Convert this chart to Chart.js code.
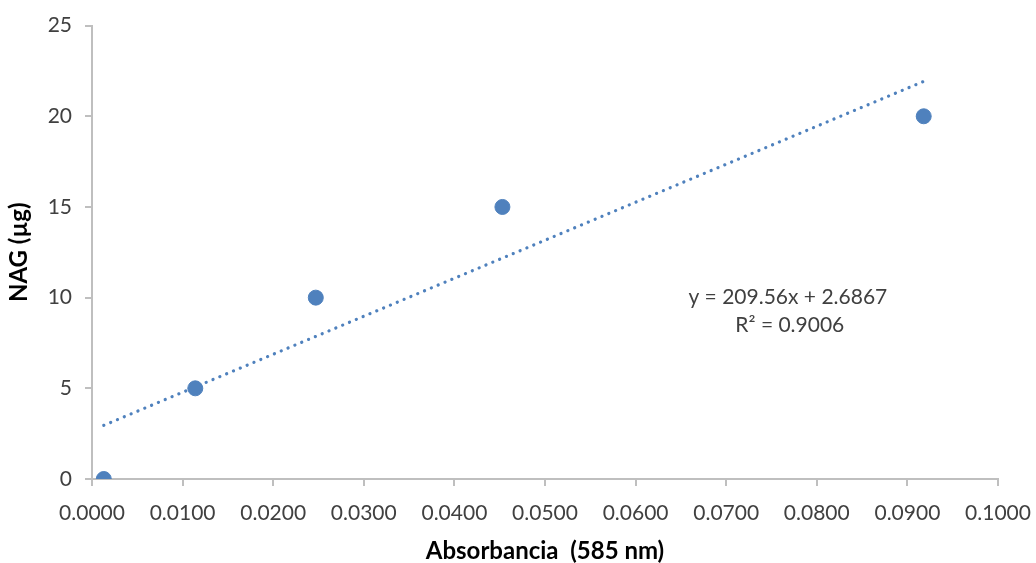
<!DOCTYPE html>
<html>
<head>
<meta charset="utf-8">
<script src="https://cdn.jsdelivr.net/npm/chart.js@4"></script>
<style>
  html, body { margin: 0; padding: 0; background: #fff; }
  #wrap { width: 1036px; height: 563px; }
</style>
</head>
<body>
<div id="wrap"><canvas id="chart" width="1036" height="563"></canvas></div>
<script>
// data
const absorbance = [0.0013, 0.0114, 0.0247, 0.0453, 0.0918];
const nagUg = [0, 5, 10, 15, 20];
const xTicks = [0, 0.01, 0.02, 0.03, 0.04, 0.05, 0.06, 0.07, 0.08, 0.09, 0.1];
const yTicks = [0, 5, 10, 15, 20, 25];
const slope = 209.56;
const intercept = 2.6867;
const equationLines = ['y = 209.56x + 2.6867', 'R² = 0.9006'];

const blue = '#4f81bd';
const axisGrey = '#bfbfbf';
const textCol = '#404040';
const fontFam = 'Lato, "Open Sans", sans-serif';

const points = absorbance.map((x, i) => ({ x: x, y: nagUg[i] }));
const xFirst = absorbance[0];
const xLast = absorbance[absorbance.length - 1];
const trend = [
  { x: xFirst, y: slope * xFirst + intercept },
  { x: xLast, y: slope * xLast + intercept }
];

// equation label, placed in data coordinates
const equationLabel = {
  id: 'equationLabel',
  afterDatasetsDraw(chart) {
    const { ctx, scales } = chart;
    const cx = scales.x.getPixelForValue(0.0768);
    const cy = scales.y.getPixelForValue(10);
    ctx.save();
    ctx.fillStyle = textCol;
    ctx.font = '21px ' + fontFam;
    ctx.textAlign = 'center';
    ctx.textBaseline = 'middle';
    ctx.fillText(equationLines[0], cx, cy);
    ctx.fillText(equationLines[1], cx + 2, cy + 28);
    ctx.restore();
  }
};

new Chart(document.getElementById('chart').getContext('2d'), {
  type: 'scatter',
  data: {
    datasets: [{
      label: 'NAG',
      data: points,
      backgroundColor: blue,
      borderColor: blue,
      pointRadius: 7.5,
      pointHoverRadius: 7.5
    }, {
      label: 'Trend',
      data: trend,
      showLine: true,
      pointRadius: 0,
      borderColor: blue,
      borderWidth: 3.2,
      borderDash: [0.1, 7.3],
      borderCapStyle: 'round'
    }]
  },
  options: {
    responsive: false,
    animation: false,
    events: [],
    layout: { padding: { top: 24, right: 0, bottom: 0, left: 0 } },
    plugins: {
      legend: { display: false },
      tooltip: { enabled: false }
    },
    scales: {
      x: {
        type: 'linear',
        min: 0,
        max: 0.1,
        afterBuildTicks: axis => { axis.ticks = xTicks.map(v => ({ value: v })); },
        afterFit: axis => { axis.height = 84; axis.paddingRight = 38; },
        ticks: {
          color: textCol,
          font: { family: fontFam, size: 21 },
          padding: 15,
          maxRotation: 0,
          callback: v => Number(v).toFixed(4)
        },
        grid: { drawOnChartArea: false, drawTicks: true, tickLength: 7, color: axisGrey, lineWidth: 2 },
        border: { color: axisGrey, width: 2 },
        title: {
          display: true,
          text: 'Absorbancia  (585 nm)',
          color: '#000',
          font: { family: fontFam, size: 24, weight: 'bold', lineHeight: 1.0 },
          padding: { top: 4, bottom: 0 }
        }
      },
      y: {
        type: 'linear',
        min: 0,
        max: 25,
        afterBuildTicks: axis => { axis.ticks = yTicks.map(v => ({ value: v })); },
        afterFit: axis => { axis.width = 92; },
        ticks: {
          color: textCol,
          font: { family: fontFam, size: 21 },
          padding: 13
        },
        grid: { drawOnChartArea: false, drawTicks: true, tickLength: 7, color: axisGrey, lineWidth: 2 },
        border: { color: axisGrey, width: 2 },
        title: {
          display: true,
          text: 'NAG (µg)',
          color: '#000',
          font: { family: fontFam, size: 24, weight: 'bold' },
          padding: { top: 5, bottom: 0 }
        }
      }
    }
  },
  plugins: [equationLabel]
});
</script>
</body>
</html>
